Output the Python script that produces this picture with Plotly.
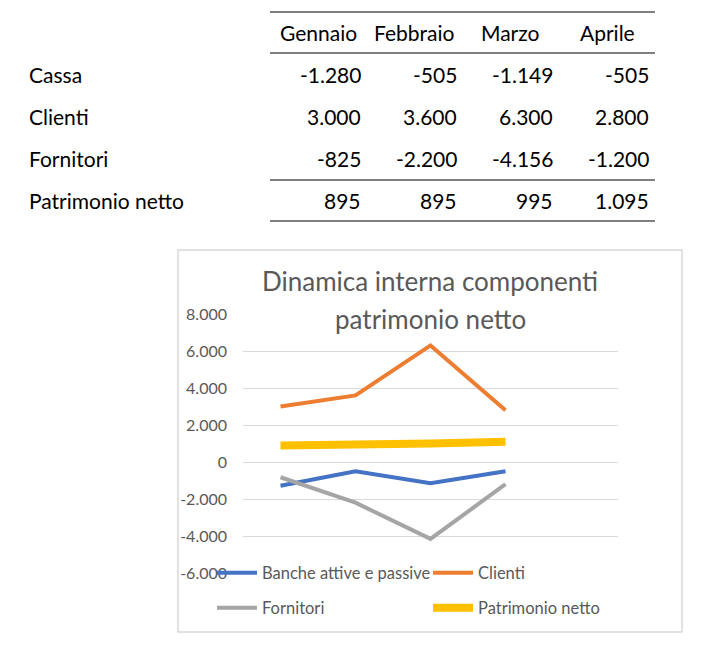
import plotly.graph_objects as go

# ---- data ----
months = ["Gennaio", "Febbraio", "Marzo", "Aprile"]
row_labels = ["Cassa", "Clienti", "Fornitori", "Patrimonio netto"]
cassa = [-1280, -505, -1149, -505]
clienti = [3000, 3600, 6300, 2800]
fornitori = [-825, -2200, -4156, -1200]
patrimonio = [895, 895, 995, 1095]
series_names = ["Banche attive e passive", "Clienti", "Fornitori", "Patrimonio netto"]
series_colors = ["#4472C4", "#ED7D31", "#A5A5A5", "#FFC000"]
series_widths = [4, 4, 4, 8]
y_ticks = [-6000, -4000, -2000, 0, 2000, 4000, 6000, 8000]
title_lines = ["Dinamica interna componenti", "patrimonio netto"]

W, H = 722, 648
L, R, T, B = 243, 618, 314, 573


def px(x):
    return (x - L) / (R - L)


def py(y):
    return (B - y) / (B - T)


def fmt(v):
    s = f"{abs(v):,}".replace(",", ".")
    return ("-" if v < 0 else "") + s


FONT = "Lato"
GREY = "#595959"
TFS = 21

legend_ids = ["legend", "legend2", "legend3", "legend4"]
legend_pos = [(212, 573), (428, 573), (212, 608), (428, 608)]

fig = go.Figure()
series = [cassa, clienti, fornitori, patrimonio]
for i, (name, vals) in enumerate(zip(series_names, series)):
    fig.add_trace(go.Scatter(
        x=months, y=vals, name=name, mode="lines",
        line=dict(color=series_colors[i], width=series_widths[i]),
        legend=legend_ids[i],
    ))

annotations = []
shapes = []

# ---- table ----
col_right = [363, 459, 555, 651]
col_center = [318, 414, 510, 607]
row_y = [74, 116, 158, 200]
for m, cx in zip(months, col_center):
    annotations.append(dict(x=px(cx), y=py(32), xref="paper", yref="paper", text=m,
                            showarrow=False, xanchor="center", yanchor="middle",
                            font=dict(family=FONT, size=TFS, color="#000000")))
table_rows = [cassa, clienti, fornitori, patrimonio]
for lbl, vals, ry in zip(row_labels, table_rows, row_y):
    annotations.append(dict(x=px(27), y=py(ry), xref="paper", yref="paper", text=lbl,
                            showarrow=False, xanchor="left", yanchor="middle",
                            font=dict(family=FONT, size=TFS, color="#000000")))
    for v, cr in zip(vals, col_right):
        annotations.append(dict(x=px(cr), y=py(ry), xref="paper", yref="paper", text=fmt(v),
                                showarrow=False, xanchor="right", yanchor="middle",
                                font=dict(family=FONT, size=TFS, color="#000000")))
for ly in [12, 53, 180, 221]:
    shapes.append(dict(type="line", xref="paper", yref="paper",
                       x0=px(270), x1=px(655), y0=py(ly), y1=py(ly),
                       line=dict(color="#000000", width=1)))

# ---- chart frame ----
shapes.append(dict(type="rect", xref="paper", yref="paper", layer="below",
                   x0=px(178), x1=px(682), y0=py(250), y1=py(632),
                   line=dict(color="#D9D9D9", width=1.5), fillcolor="rgba(0,0,0,0)"))

# ---- chart title ----
for t, ty in zip(title_lines, [281, 319]):
    annotations.append(dict(x=px(430), y=py(ty), xref="paper", yref="paper", text=t,
                            showarrow=False, xanchor="center", yanchor="middle",
                            font=dict(family=FONT, size=26, color=GREY)))

legends = {}
for lid, (lx, ly) in zip(legend_ids, legend_pos):
    legends[lid] = dict(orientation="h", xanchor="left", yanchor="middle",
                        x=px(lx), y=py(ly),
                        bgcolor="rgba(0,0,0,0)", borderwidth=0,
                        font=dict(family=FONT, size=16.5, color=GREY),
                        itemwidth=40, tracegroupgap=0)

fig.update_layout(
    width=W, height=H,
    margin=dict(l=L, r=W - R, t=T, b=H - B, pad=0),
    paper_bgcolor="white", plot_bgcolor="white",
    showlegend=True,
    xaxis=dict(type="category", range=[-0.5, 4.5], showticklabels=False,
               showgrid=False, zeroline=False, showline=False, ticks=""),
    yaxis=dict(range=[-6000, 8000], tickvals=y_ticks,
               ticktext=[fmt(v) for v in y_ticks],
               showgrid=True, gridcolor="#D9D9D9", gridwidth=1,
               zeroline=False, showline=False, ticks="",
               ticklabelstandoff=15,
               tickfont=dict(family=FONT, size=16, color=GREY)),
    annotations=annotations,
    shapes=shapes,
    **legends,
)

fig.write_html("out.html", config={"displayModeBar": False},
               post_script="document.body.style.margin='0px';")
